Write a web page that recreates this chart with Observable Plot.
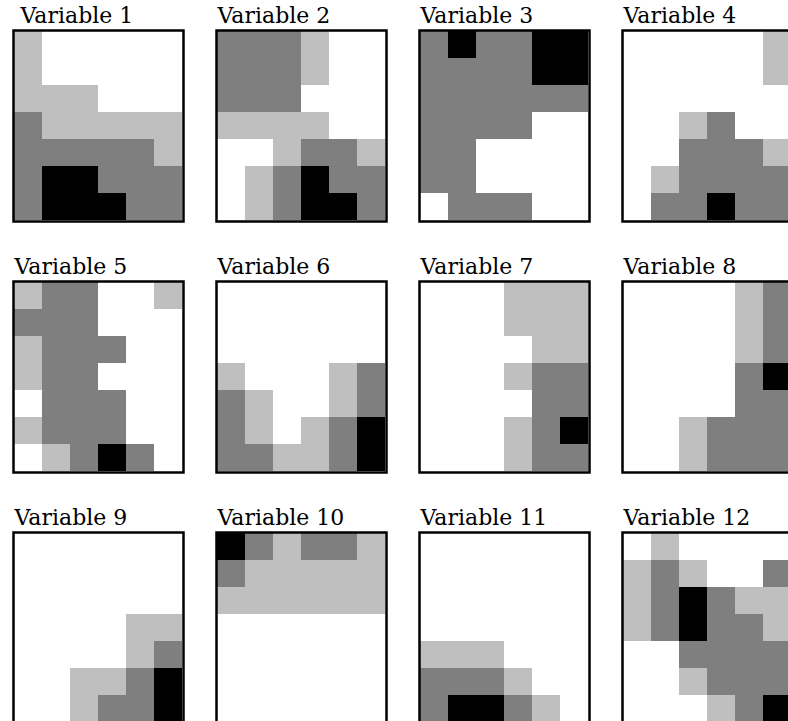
<!DOCTYPE html>
<html>
<head>
<meta charset="utf-8">
<script src="https://cdn.jsdelivr.net/npm/d3@7"></script>
<script src="https://cdn.jsdelivr.net/npm/@observablehq/plot@0.6"></script>
<style>
  html, body { margin: 0; padding: 0; background: white; overflow: hidden; }
  #chart { width: 788px; height: 721px; overflow: hidden; position: relative; }
  #chart svg { max-width: none; display: block; }
</style>
</head>
<body>
<div id="chart"></div>
<script>
// Levels: 0 = white, 1 = light gray, 2 = gray, 3 = black; rows listed top to bottom, 6 columns each
const panel1 = [
  [1,0,0,0,0,0],
  [1,0,0,0,0,0],
  [1,1,1,0,0,0],
  [2,1,1,1,1,1],
  [2,2,2,2,2,1],
  [2,3,3,2,2,2],
  [2,3,3,3,2,2]
];
const panel2 = [
  [2,2,2,1,0,0],
  [2,2,2,1,0,0],
  [2,2,2,0,0,0],
  [1,1,1,1,0,0],
  [0,0,1,2,2,1],
  [0,1,2,3,2,2],
  [0,1,2,3,3,2]
];
const panel3 = [
  [2,3,2,2,3,3],
  [2,2,2,2,3,3],
  [2,2,2,2,2,2],
  [2,2,2,2,0,0],
  [2,2,0,0,0,0],
  [2,2,0,0,0,0],
  [0,2,2,2,0,0]
];
const panel4 = [
  [0,0,0,0,0,1],
  [0,0,0,0,0,1],
  [0,0,0,0,0,0],
  [0,0,1,2,0,0],
  [0,0,2,2,2,1],
  [0,1,2,2,2,2],
  [0,2,2,3,2,2]
];
const panel5 = [
  [1,2,2,0,0,1],
  [2,2,2,0,0,0],
  [1,2,2,2,0,0],
  [1,2,2,0,0,0],
  [0,2,2,2,0,0],
  [1,2,2,2,0,0],
  [0,1,2,3,2,0]
];
const panel6 = [
  [0,0,0,0,0,0],
  [0,0,0,0,0,0],
  [0,0,0,0,0,0],
  [1,0,0,0,1,2],
  [2,1,0,0,1,2],
  [2,1,0,1,2,3],
  [2,2,1,1,2,3]
];
const panel7 = [
  [0,0,0,1,1,1],
  [0,0,0,1,1,1],
  [0,0,0,0,1,1],
  [0,0,0,1,2,2],
  [0,0,0,0,2,2],
  [0,0,0,1,2,3],
  [0,0,0,1,2,2]
];
const panel8 = [
  [0,0,0,0,1,2],
  [0,0,0,0,1,2],
  [0,0,0,0,1,2],
  [0,0,0,0,2,3],
  [0,0,0,0,2,2],
  [0,0,1,2,2,2],
  [0,0,1,2,2,2]
];
const panel9 = [
  [0,0,0,0,0,0],
  [0,0,0,0,0,0],
  [0,0,0,0,0,0],
  [0,0,0,0,1,1],
  [0,0,0,0,1,2],
  [0,0,1,1,2,3],
  [0,0,1,2,2,3]
];
const panel10 = [
  [3,2,1,2,2,1],
  [2,1,1,1,1,1],
  [1,1,1,1,1,1],
  [0,0,0,0,0,0],
  [0,0,0,0,0,0],
  [0,0,0,0,0,0],
  [0,0,0,0,0,0]
];
const panel11 = [
  [0,0,0,0,0,0],
  [0,0,0,0,0,0],
  [0,0,0,0,0,0],
  [0,0,0,0,0,0],
  [1,1,1,0,0,0],
  [2,2,2,1,0,0],
  [2,3,3,2,1,0]
];
const panel12 = [
  [0,1,0,0,0,0],
  [1,2,1,0,0,2],
  [1,2,3,2,1,1],
  [1,2,3,2,2,1],
  [0,0,2,2,2,2],
  [0,0,1,2,2,2],
  [0,0,0,1,2,3]
];
const panels = [panel1, panel2, panel3, panel4, panel5, panel6, panel7, panel8, panel9, panel10, panel11, panel12];
const titles = ["Variable 1","Variable 2","Variable 3","Variable 4","Variable 5","Variable 6",
                "Variable 7","Variable 8","Variable 9","Variable 10","Variable 11","Variable 12"];
const levels = [0, 1, 2, 3];
const levelColors = ["#ffffff", "#bfbfbf", "#7f7f7f", "#000000"];
const nCols = 4;

const cells = [];
panels.forEach((grid, p) => {
  grid.forEach((rowVals, r) => {
    rowVals.forEach((v, c) => {
      cells.push({panel: p, fx: p % nCols, fy: Math.floor(p / nCols), col: c, row: r, level: v});
    });
  });
});
const titleData = titles.map((t, p) => ({title: t, panel: p, fx: p % nCols, fy: Math.floor(p / nCols)}));

const titleStyle = {
  fx: "fx", fy: "fy", text: "title",
  frameAnchor: "top-left", textAnchor: "start", lineAnchor: "bottom",
  dy: -8, fontSize: 22, fontFamily: "DejaVu Serif", fill: "black"
};

const chart = Plot.plot({
  width: 788,
  height: 721,
  margin: 0,
  style: {background: "white"},
  fx: {domain: [0,1,2,3], range: [12, 792.5], paddingInner: 33.5 / 203.5, paddingOuter: 0, axis: null},
  fy: {domain: [0,1,2], range: [30, 722.5], paddingInner: 60.5 / 251, paddingOuter: 0, axis: null},
  x: {type: "band", domain: d3.range(6), padding: 0, axis: null},
  y: {type: "band", domain: d3.range(7), padding: 0, axis: null},
  color: {type: "ordinal", domain: levels, range: levelColors},
  marks: [
    Plot.cell(cells, {x: "col", y: "row", fx: "fx", fy: "fy", fill: "level"}),
    Plot.frame({stroke: "black", strokeWidth: 2.5}),
    Plot.text(titleData.filter(d => d.panel === 0), {...titleStyle, dx: 7}),
    Plot.text(titleData.filter(d => d.panel !== 0), {...titleStyle, dx: 1})
  ]
});
document.getElementById("chart").appendChild(chart);
</script>
</body>
</html>
